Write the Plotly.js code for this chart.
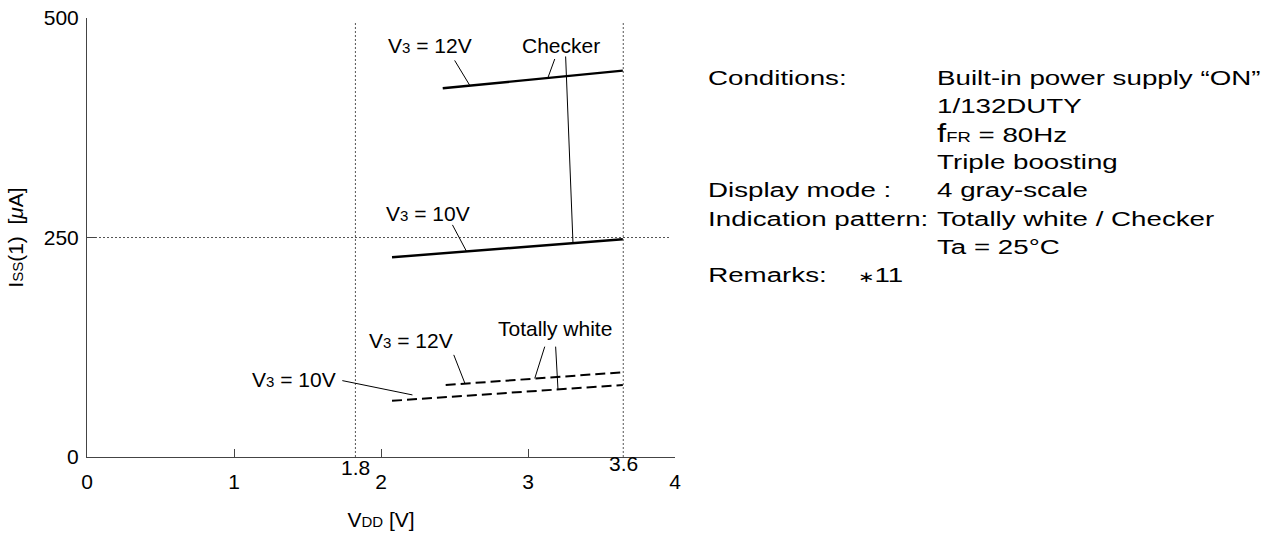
<!DOCTYPE html>
<html>
<head>
<meta charset="utf-8">
<script src="https://cdn.plot.ly/plotly-3.0.1.min.js"></script>
<style>
  html, body { margin: 0; padding: 0; background: #ffffff; }
  #chart { width: 1275px; height: 538px; }
</style>
</head>
<body>
<div id="chart"></div>
<script>
// ---------------- data ----------------
const xTickValues = [0, 1, 2, 3, 4];
const yTickValues = [0, 250, 500];

// reference (dotted) lines
const refVddValues = [1.826, 3.648];
const refVddLabels = ['1.8', '3.6'];
const refIssValue = 250;

// Checker pattern (solid)
const checker12Vdd = [2.42, 3.645];
const checker12Iss = [420, 440];
const checker10Vdd = [2.075, 3.645];
const checker10Iss = [227.5, 248];

// Totally white pattern (dashed)
const white12Vdd = [2.44, 3.645];
const white12Iss = [82, 96.5];
const white10Vdd = [2.075, 3.645];
const white10Iss = [64, 82];

// callout texts
const calloutTexts = ['V3 = 12V', 'Checker', 'V3 = 10V', 'Totally white', 'V3 = 12V', 'V3 = 10V'];
const calloutX = [2.332, 3.227, 2.320, 3.182, 2.207, 1.405];
const calloutY = [469, 469, 277, 146, 133, 88];

// leader lines: from (x0,y0) to (x1,y1)
const leaderX0 = [2.501, 3.182, 3.256, 2.486, 3.114, 3.188, 2.495, 1.737];
const leaderY0 = [451.7, 453.3, 456.2, 264.4, 125.7, 125.7, 116.3, 87.0];
const leaderX1 = [2.603, 3.136, 3.306, 2.581, 3.046, 3.204, 2.571, 2.214];
const leaderY1 = [423.5, 432.2, 243.9, 234.4, 89.5, 76.8, 83.8, 70.7];

// conditions block
const condLabels = ['Conditions:', '', '', '', 'Display mode :', 'Indication pattern:', '', 'Remarks:\u00A0\u00A0\u00A0\u00A0\u221711'];
const condValues = ['Built-in power supply \u201CON\u201D', '1/132DUTY', 'fFR = 80Hz', 'Triple boosting',
                    '4 gray-scale', 'Totally white / Checker', 'Ta = 25\u00B0C', ''];

// ---------------- styling helpers ----------------
const FONT = 'Liberation Sans, Arial, Helvetica, sans-serif';
const FS = 21;
const COND_STRETCH = 1.32;   // the conditions text in the reference is horizontally wide
const small = (s, size) => `<span style="font-size:${size || 15}px">${s}</span>`;
function fmtV(t) {
  return t.replace(/V3/g, 'V' + small('3'));
}
function fmtCond(t) {
  return t.replace('fFR', `<span style="font-size:25px">f</span>${small('FR', 14)}`)
          .replace('\u2217', small('\u2217', 15));
}

// ---------------- traces ----------------
const solid = { color: '#000000', width: 2.4 };
const dashed = { color: '#000000', width: 2, dash: '10px,5px' };
const traces = [
  { x: checker12Vdd, y: checker12Iss, mode: 'lines', line: solid },
  { x: checker10Vdd, y: checker10Iss, mode: 'lines', line: solid },
  { x: white12Vdd, y: white12Iss, mode: 'lines', line: dashed },
  { x: white10Vdd, y: white10Iss, mode: 'lines', line: dashed }
].map(t => Object.assign(t, { type: 'scatter', showlegend: false, hoverinfo: 'skip' }));

// ---------------- shapes ----------------
const dotLine = { color: '#555555', width: 1, dash: '2px,2px' };
const shapes = [];
refVddValues.forEach(v => shapes.push({
  type: 'line', xref: 'x', yref: 'y', x0: v, x1: v, y0: 0, y1: 495, line: dotLine, layer: 'below'
}));
shapes.push({ type: 'line', xref: 'x', yref: 'y', x0: 0, x1: 3.96, y0: refIssValue, y1: refIssValue, line: dotLine, layer: 'below' });
leaderX0.forEach((_, i) => shapes.push({
  type: 'line', xref: 'x', yref: 'y',
  x0: leaderX0[i], y0: leaderY0[i], x1: leaderX1[i], y1: leaderY1[i],
  line: { color: '#000000', width: 1 }
}));

// ---------------- annotations ----------------
const annotations = [];
calloutTexts.forEach((t, i) => annotations.push({
  xref: 'x', yref: 'y', x: calloutX[i], y: calloutY[i], text: fmtV(t),
  showarrow: false, xanchor: 'center', yanchor: 'middle', font: { family: FONT, size: FS, color: '#000' }
}));
refVddValues.forEach((v, i) => annotations.push({
  xref: 'x', yref: 'paper', x: v, y: 0, yshift: i === 0 ? -10 : -6, text: refVddLabels[i],
  showarrow: false, xanchor: 'center', yanchor: 'middle', font: { family: FONT, size: FS, color: '#000' }
}));

// conditions block placed in paper coordinates (plot area spans 87..675 px, 18..457 px)
const plotL = 87, plotW = 588, plotT = 18, plotH = 439;
const colLabelPx = 706, colValuePx = 935, rowTopPx = 77, rowStepPx = 28.2;
const condAnnIdx = [];
condLabels.forEach((t, i) => {
  const y = 1 - (rowTopPx + i * rowStepPx - plotT) / plotH;
  if (t) {
    condAnnIdx.push(annotations.length);
    annotations.push({
      xref: 'paper', yref: 'paper', x: (colLabelPx - plotL) / plotW, y: y, text: fmtCond(t),
      showarrow: false, xanchor: 'left', yanchor: 'middle', font: { family: FONT, size: FS, color: '#000' }
    });
  }
  if (condValues[i]) {
    condAnnIdx.push(annotations.length);
    annotations.push({
      xref: 'paper', yref: 'paper', x: (colValuePx - plotL) / plotW, y: y, text: fmtCond(condValues[i]),
      showarrow: false, xanchor: 'left', yanchor: 'middle', font: { family: FONT, size: FS, color: '#000' }
    });
  }
});

// ---------------- layout ----------------
const axisCommon = {
  showline: true, linecolor: '#444444', linewidth: 1,
  ticks: 'inside', tickcolor: '#444444', tickwidth: 1,
  showgrid: false, zeroline: false,
  tickfont: { family: FONT, size: FS, color: '#000' }
};
const layout = {
  width: 1275, height: 538,
  margin: { l: 87, r: 600, t: 18, b: 81 },
  paper_bgcolor: '#ffffff', plot_bgcolor: '#ffffff',
  font: { family: FONT, size: FS, color: '#000' },
  showlegend: false,
  hovermode: false,
  xaxis: Object.assign({}, axisCommon, {
    range: [0, 4], tickvals: xTickValues, ticktext: xTickValues.map(String),
    ticklen: 8, ticklabelstandoff: 6,
    title: { text: 'V' + small('DD') + ' [V]', font: { family: FONT, size: FS, color: '#000' }, standoff: 20 }
  }),
  yaxis: Object.assign({}, axisCommon, {
    range: [0, 500], tickvals: yTickValues, ticktext: yTickValues.map(String),
    ticklen: 9, ticklabelstandoff: 3,
    title: { text: 'I' + small('SS') + '(1)\u00A0\u00A0[<i>\u03BC</i>A]', font: { family: FONT, size: FS, color: '#000' }, standoff: 14 }
  }),
  shapes: shapes,
  annotations: annotations
};

Plotly.newPlot('chart', traces, layout, { displayModeBar: false, staticPlot: true }).then(gd => {
  // widen the conditions text horizontally around its left edge
  condAnnIdx.forEach(idx => {
    const g = gd.querySelector(`g.annotation[data-index="${idx}"]`);
    if (!g) return;
    const txt = g.querySelector('text.annotation-text');
    if (!txt) return;
    const bb = txt.getBBox();
    const x0 = bb.x;
    txt.setAttribute('transform', `translate(${x0 * (1 - COND_STRETCH)},0) scale(${COND_STRETCH},1)`);
  });
});
</script>
</body>
</html>
